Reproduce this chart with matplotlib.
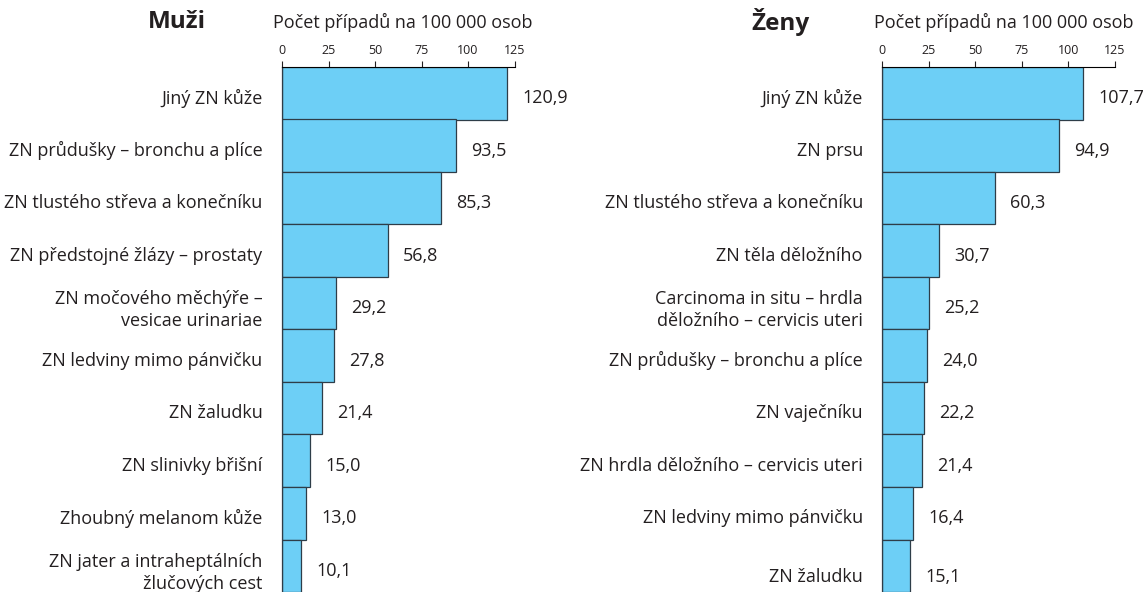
import numpy as np
import matplotlib.pyplot as plt
import matplotlib.transforms as mtransforms

plt.rcParams['font.family'] = ['Open Sans', 'DejaVu Sans']

# data
muzi_labels = ['Jiný ZN kůže', 'ZN průdušky – bronchu a plíce', 'ZN tlustého střeva a konečníku',
               'ZN předstojné žlázy – prostaty', 'ZN močového měchýře –\nvesicae urinariae',
               'ZN ledviny mimo pánvičku', 'ZN žaludku', 'ZN slinivky břišní',
               'Zhoubný melanom kůže', 'ZN jater a intraheptálních\nžlučových cest']
muzi_values = [120.9, 93.5, 85.3, 56.8, 29.2, 27.8, 21.4, 15.0, 13.0, 10.1]

zeny_labels = ['Jiný ZN kůže', 'ZN prsu', 'ZN tlustého střeva a konečníku', 'ZN těla děložního',
               'Carcinoma in situ – hrdla\nděložního – cervicis uteri', 'ZN průdušky – bronchu a plíce',
               'ZN vaječníku', 'ZN hrdla děložního – cervicis uteri', 'ZN ledviny mimo pánvičku',
               'ZN žaludku']
zeny_values = [107.7, 94.9, 60.3, 30.7, 25.2, 24.0, 22.2, 21.4, 16.4, 15.1]

ticks = [0, 25, 50, 75, 100, 125]

W, H = 1146, 592
fig = plt.figure(figsize=(W / 100, H / 100), dpi=100)

bar_color = '#6dcff6'
edge_color = '#2e3d48'
text_color = '#231f20'


def panel(x0, title, title_x, labels, values, last_shift=0):
    ax = fig.add_axes([x0 / W, 0, 232.6 / W, 525 / H])
    y = np.arange(len(values))
    ax.barh(y, values, height=1.0, color=bar_color, edgecolor=edge_color, linewidth=0.9)
    ax.set_ylim(len(values) - 0.5, -0.5)
    ax.set_xlim(0, 125)
    ax.set_yticks(y)
    ax.set_yticklabels(labels, fontsize=13, color=text_color, linespacing=1.3)
    ax.tick_params(axis='y', length=0, pad=14)
    ax.xaxis.tick_top()
    ax.set_xticks(ticks)
    ax.set_xticklabels([str(t) for t in ticks], fontsize=9, color=text_color)
    ax.tick_params(axis='x', direction='out', length=4.5, width=0.8, pad=3, color=text_color)
    for s in ['right', 'bottom']:
        ax.spines[s].set_visible(False)
    ax.spines['top'].set_linewidth(0.8)
    ax.spines['left'].set_linewidth(0.9)
    ax.spines['left'].set_color(edge_color)

    # small downward shift of the text relative to bar centers
    shifts = [-2] * len(values)
    shifts[-1] = -2 - last_shift
    for lab, s in zip(ax.get_yticklabels(), shifts):
        lab.set_transform(lab.get_transform() +
                          mtransforms.ScaledTranslation(0, s / 72, fig.dpi_scale_trans))
    for yi, v, s in zip(y, values, shifts):
        ax.annotate(f'{v:.1f}'.replace('.', ','), (v, yi), xytext=(11, s),
                    textcoords='offset points', ha='left', va='center_baseline',
                    fontsize=13, color=text_color)
    fig.text(title_x / W, 1 - 22 / H, title, fontsize=17.5, fontweight='bold',
             ha='center', va='center', color=text_color)
    fig.text((x0 + 121) / W, 1 - 22 / H, 'Počet případů na 100 000 osob', fontsize=13,
             ha='center', va='center', color=text_color)
    return ax


panel(282, 'Muži', 177, muzi_labels, muzi_values)
panel(882.3, 'Ženy', 780, zeny_labels, zeny_values, last_shift=5)

fig.savefig('out.png', dpi=100)
